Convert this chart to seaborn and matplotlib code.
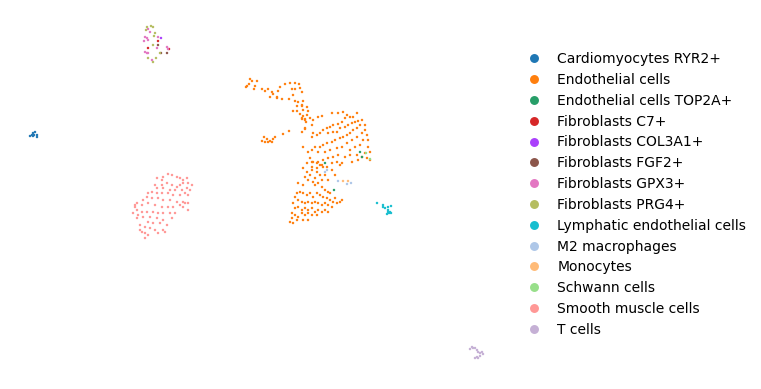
import pandas as pd
import seaborn as sns
import matplotlib.pyplot as plt

# UMAP 좌표, 클러스터별
cardio = [(32, 135), (33, 133), (35, 132), (34, 135), (37, 135), (37, 137), (33, 136), (30, 136)]

endo = [
    # 왼쪽 위 팔
    (250, 79), (252, 81), (247, 86), (249, 84), (246, 87), (255, 86), (257, 81), (254, 89),
    (262, 89), (265, 91), (268, 89), (272, 92), (273, 94), (277, 97), (280, 87), (278, 91),
    (285, 84), (290, 83), (295, 83), (299, 84), (292, 89), (295, 89), (302, 92), (300, 88),
    (293, 95), (289, 99), (295, 101), (298, 102), (302, 106), (297, 106), (303, 101), (307, 107),
    (308, 111), (293, 111), (297, 111), (300, 114), (303, 116), (305, 119), (306, 122), (305, 129),
    (302, 119), (282, 99), (277, 98), (270, 97), (283, 134), (289, 131),
    # 작은 덩어리
    (264, 137), (267, 139), (270, 141), (273, 139), (262, 141), (268, 142), (272, 142), (265, 142),
    (275, 137),
    # 본체
    (302, 105), (303, 110), (307, 115), (302, 118), (305, 120), (310, 118), (313, 120), (312, 125),
    (305, 128), (318, 117), (322, 116), (332, 113), (338, 113), (343, 112), (347, 115), (350, 117),
    (353, 117), (345, 118), (342, 122), (338, 124), (333, 125), (330, 127), (327, 128), (323, 130),
    (320, 133), (317, 135), (313, 133), (312, 137), (328, 133), (333, 132), (337, 132), (340, 128),
    (345, 127), (348, 125), (352, 123), (355, 122), (358, 121), (360, 125), (357, 128), (353, 130),
    (350, 133), (347, 135), (343, 137), (340, 138), (335, 140), (332, 142), (327, 143), (323, 145),
    (320, 147), (315, 147), (312, 150), (308, 152), (318, 152), (325, 152), (330, 150), (337, 148),
    (342, 147), (347, 143), (352, 140), (357, 137), (362, 133), (365, 130), (367, 135), (368, 140),
    (363, 140), (360, 145), (355, 147), (350, 150), (368, 147), (370, 152), (365, 153), (362, 157),
    (357, 155), (350, 155), (345, 157), (338, 155), (333, 157), (328, 158), (323, 160), (318, 162),
    (313, 162), (310, 158), (307, 163), (312, 167), (317, 168), (322, 165), (327, 167), (332, 163),
    (337, 162), (342, 163), (352, 162), (358, 160), (367, 158), (370, 160), (302, 132), (303, 147),
    (357, 113), (362, 120), (365, 125),
    # 가운데
    (312, 162), (317, 163), (320, 165), (323, 167), (312, 170), (317, 172), (320, 175), (310, 175),
    (307, 172), (303, 168), (305, 177), (332, 170), (335, 175), (340, 165), (325, 175), (328, 180),
    (322, 180), (315, 178),
    # 아래 덩어리
    (298, 183), (303, 185), (308, 180), (313, 182), (315, 185), (318, 183), (322, 187), (325, 190),
    (328, 192), (330, 193), (297, 193), (300, 192), (303, 193), (307, 195), (310, 193), (313, 197),
    (317, 193), (320, 195), (323, 197), (327, 198), (330, 200), (333, 202), (337, 203), (340, 202),
    (342, 200), (335, 198), (295, 197), (298, 200), (302, 202), (305, 203), (308, 202), (312, 203),
    (315, 202), (318, 203), (322, 205), (325, 203), (328, 205), (332, 207), (293, 203), (295, 208),
    (298, 207), (302, 210), (305, 208), (308, 210), (312, 208), (315, 212), (318, 210), (322, 212),
    (325, 210), (328, 212), (292, 213), (295, 215), (298, 217), (302, 213), (305, 215), (308, 213),
    (312, 215), (317, 215), (292, 218), (297, 220), (303, 220), (308, 220), (290, 222), (293, 223),
]

endo_top2a = [(360, 152), (362, 157), (325, 163), (334, 190)]
fibro_c7 = [(158, 41), (148, 48), (169, 49)]
fibro_col3a1 = [(161, 38)]
fibro_fgf2 = [(158, 45), (161, 53), (167, 53)]
fibro_gpx3 = [(148, 29), (150, 32), (145, 37), (147, 38), (148, 40), (145, 52), (147, 53), (148, 53),
              (152, 60), (167, 47), (168, 49), (157, 48), (158, 37), (144, 41)]
fibro_prg4 = [(147, 27), (151, 26), (153, 27), (155, 33), (154, 36), (153, 45), (148, 58), (153, 62),
              (156, 58), (160, 53), (146, 30)]
lymph = [(377, 203), (383, 205), (383, 207), (385, 208), (388, 207), (391, 206), (388, 210), (390, 212),
         (387, 214), (389, 213), (391, 213), (388, 212)]
m2 = [(327, 170), (325, 172), (338, 181), (347, 184), (351, 183)]
mono = [(343, 181), (348, 181)]
schwann = [(366, 153), (370, 159)]
smooth = [
    (168, 174), (172, 175), (163, 177), (157, 178), (162, 180), (177, 177), (180, 178), (183, 180),
    (187, 178), (192, 185), (188, 183), (183, 183), (180, 185), (177, 187), (172, 185), (167, 183),
    (162, 185), (155, 185), (157, 188), (163, 188), (170, 190), (175, 190), (182, 190), (187, 188),
    (190, 190), (188, 195), (185, 193), (180, 195), (173, 195), (168, 193), (162, 193), (157, 193),
    (152, 192), (148, 193), (147, 197), (152, 198), (158, 198), (163, 200), (170, 200), (177, 202),
    (183, 202), (188, 203), (185, 203), (143, 200), (137, 203), (135, 205), (142, 205), (148, 203),
    (155, 205), (162, 207), (168, 207), (173, 207), (180, 205), (183, 207), (188, 210), (137, 210),
    (142, 212), (147, 212), (153, 212), (158, 213), (163, 213), (170, 213), (137, 218), (143, 217),
    (150, 217), (157, 218), (163, 220), (172, 218), (148, 222), (153, 223), (160, 223), (167, 225),
    (140, 225), (145, 227), (150, 228), (155, 230), (163, 230), (165, 232), (142, 232), (145, 233),
    (148, 235), (145, 238), (140, 230), (158, 233), (133, 213), (138, 215), (175, 213), (135, 207),
]
tcells = [(472, 347), (473, 348), (475, 348), (477, 350), (478, 352), (480, 353), (482, 352), (477, 357),
          (478, 358), (475, 358), (480, 356), (483, 354), (470, 349)]

clusters = {
    'Cardiomyocytes RYR2+': cardio,
    'Endothelial cells': endo,
    'Endothelial cells TOP2A+': endo_top2a,
    'Fibroblasts C7+': fibro_c7,
    'Fibroblasts COL3A1+': fibro_col3a1,
    'Fibroblasts FGF2+': fibro_fgf2,
    'Fibroblasts GPX3+': fibro_gpx3,
    'Fibroblasts PRG4+': fibro_prg4,
    'Lymphatic endothelial cells': lymph,
    'M2 macrophages': m2,
    'Monocytes': mono,
    'Schwann cells': schwann,
    'Smooth muscle cells': smooth,
    'T cells': tcells,
}

# scanpy 기본 팔레트
colors = ['#1f77b4', '#ff7f0e', '#279e68', '#d62728', '#aa40fc', '#8c564b', '#e377c2',
          '#b5bd61', '#17becf', '#aec7e8', '#ffbb78', '#98df8a', '#ff9896', '#c5b0d5']
order = list(clusters.keys())
palette = dict(zip(order, colors))

rows = []
for name, pts in clusters.items():
    for x, y in pts:
        rows.append({'UMAP1': x, 'UMAP2': y, 'cell_type': name})
df = pd.DataFrame(rows)

fig = plt.figure(figsize=(7.61, 3.89), dpi=100)
ax = fig.add_axes([0.0, 0.0, 0.66, 1.0])
sns.scatterplot(data=df, x='UMAP1', y='UMAP2', hue='cell_type', hue_order=order,
                palette=palette, s=3.2, linewidth=0, ax=ax)
ax.set_xlim(0, 0.66 * 761)
ax.set_ylim(389, 0)
ax.set_axis_off()
sns.move_legend(ax, 'center left', bbox_to_anchor=(1.01, 0.5), frameon=False, title=None,
                markerscale=3.6, fontsize=10, labelspacing=0.49, handletextpad=0.7)

plt.savefig('out.png', dpi=100)
plt.close()
